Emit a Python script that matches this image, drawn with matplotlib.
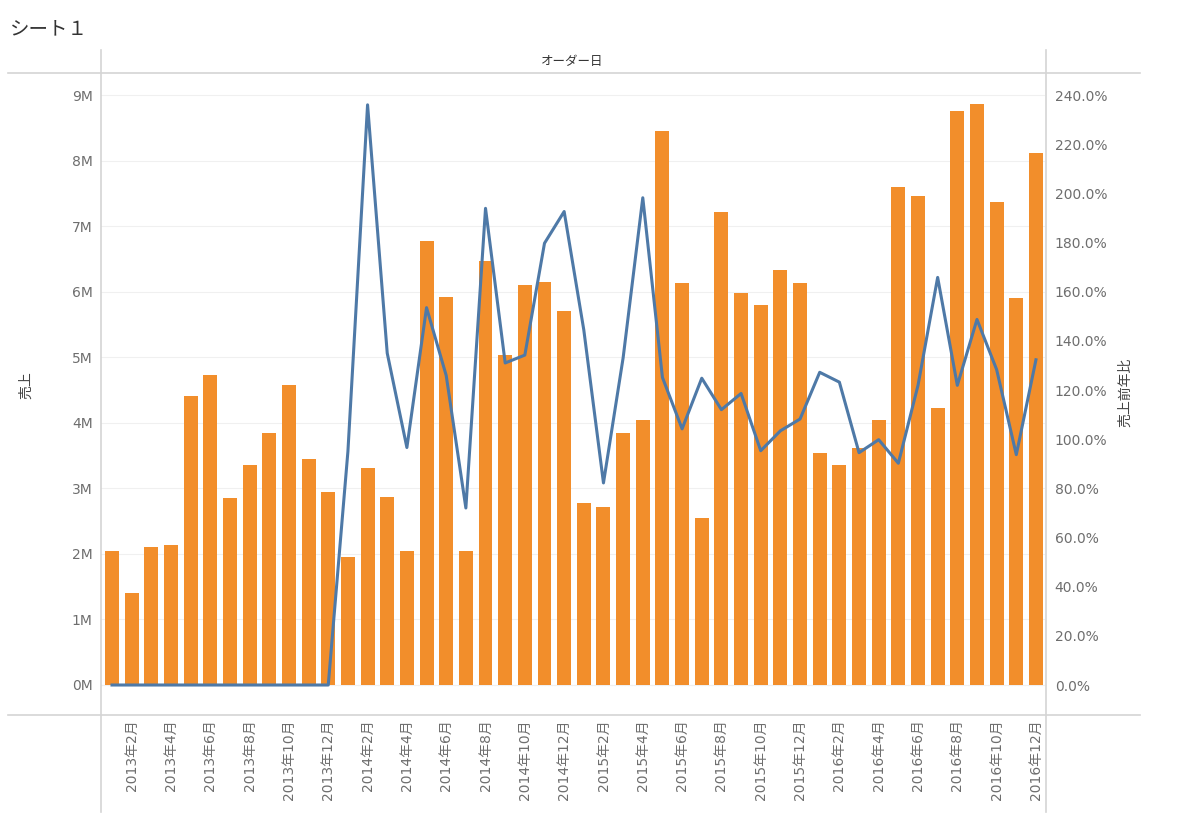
import matplotlib.pyplot as plt
import numpy as np
from matplotlib.lines import Line2D

plt.rcParams['font.family'] = ['DejaVu Sans', 'Noto Sans CJK JP']

ORANGE = "#f28e2b"
BLUE = "#4e79a7"
GRAY_TEXT = "#6e6e6e"
RULE = "#d4d4d4"
JP = ['Noto Sans CJK JP', 'DejaVu Sans']

# months 2013-01 .. 2016-12
years = [2013, 2014, 2015, 2016]
months = [f"{y}年{m}月" for y in years for m in range(1, 13)]

# sales in millions
sales = [
    2.04, 1.40, 2.11, 2.13, 4.41, 4.73, 2.85, 3.35, 3.85, 4.57, 3.45, 2.95,
    1.95, 3.31, 2.87, 2.04, 6.78, 5.92, 2.05, 6.47, 5.04, 6.10, 6.15, 5.70,
    2.78, 2.72, 3.84, 4.04, 8.45, 6.13, 2.55, 7.22, 5.98, 5.79, 6.33, 6.13,
    3.54, 3.35, 3.61, 4.04, 7.59, 7.46, 4.23, 8.75, 8.87, 7.37, 5.90, 8.11,
]

# year-over-year ratio in percent (0 for the first year)
yoy = [
    0, 0, 0, 0, 0, 0, 0, 0, 0, 0, 0, 0,
    95.0, 236.0, 135.0, 96.6, 153.5, 125.9, 72.0, 193.9, 131.0, 134.2, 179.7, 192.6,
    144.4, 82.2, 133.1, 198.2, 125.1, 104.2, 124.8, 112.0, 118.6, 95.3, 103.4, 108.2,
    127.2, 123.2, 94.5, 99.8, 90.2, 121.9, 165.8, 121.9, 148.7, 128.3, 93.7, 132.3,
]

fig = plt.figure(figsize=(12, 8.22), dpi=100)
W, H = 1200, 822

def fx(px):
    return px / W

def fy(py):
    return 1 - py / H

ax = fig.add_axes([fx(101), fy(715), fx(1045 - 101), (715 - 73) / H])
x = np.arange(len(months))

ax.bar(x, sales, width=0.71, color=ORANGE, zorder=2)
ax.set_xlim(-0.56, 47.46)
ax.set_ylim(-0.458, 9.336)
ax.set_yticks(range(0, 10))
ax.set_yticklabels([f"{v}M" for v in range(0, 10)], color=GRAY_TEXT, fontsize=10)
ax.yaxis.grid(True, color="#f0f0f0", lw=0.8, zorder=0)
ax.axhline(0, color="#e0e0e0", lw=0.8, ls=(0, (1, 2)), zorder=1)
ax.tick_params(axis='both', length=0)
ax.tick_params(axis='y', pad=6)

ax.set_xticks(x[1::2])
ax.set_xticklabels(months[1::2], rotation=90, color=GRAY_TEXT, fontsize=10, va='top')
ax.tick_params(axis='x', pad=3)

for s in ax.spines.values():
    s.set_visible(False)

ax2 = ax.twinx()
ax2.plot(x, yoy, color=BLUE, lw=2.2, zorder=3)
ax2.set_ylim(-12.2, 248.95)
ax2.set_yticks(range(0, 241, 20))
ax2.set_yticklabels([f"{v:.1f}%" for v in range(0, 241, 20)], color=GRAY_TEXT, fontsize=10)
ax2.tick_params(axis='y', length=0, pad=7)
for s in ax2.spines.values():
    s.set_visible(False)

# frame rules like the dashboard layout
def rule(x0, y0, x1, y1):
    fig.add_artist(Line2D([fx(x0), fx(x1)], [fy(y0), fy(y1)], color=RULE, lw=1.2))

rule(8, 73, 1140, 73)
rule(8, 715, 1140, 715)
rule(101, 50, 101, 812)
rule(1046, 50, 1046, 812)

fig.text(fx(10), fy(29), "シート１", fontsize=14, color="#333333", va='center', ha='left', family=JP)
fig.text(fx(572), fy(62), "オーダー日", fontsize=9, color="#333333", va='center', ha='center', family=JP)
fig.text(fx(26), fy(385), "売上", fontsize=10, color="#444444", rotation=90, va='center', ha='center', family=JP)
fig.text(fx(1125), fy(392), "売上前年比", fontsize=10, color="#444444", rotation=90, va='center', ha='center', family=JP)

fig.savefig("out.png", dpi=100)
